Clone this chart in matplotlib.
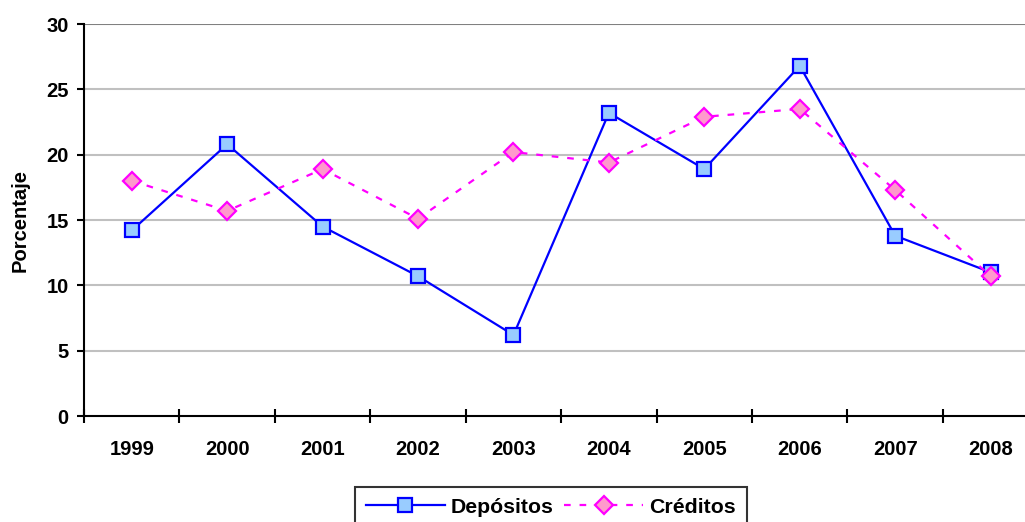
import matplotlib
matplotlib.use("Agg")
import matplotlib.pyplot as plt

years = ["1999", "2000", "2001", "2002", "2003", "2004", "2005", "2006", "2007", "2008"]
depositos = [14.2, 20.8, 14.5, 10.7, 6.2, 23.2, 18.9, 26.8, 13.8, 11.0]
creditos = [18.0, 15.7, 18.9, 15.1, 20.2, 19.4, 22.9, 23.5, 17.3, 10.7]
y_ticks = [0, 5, 10, 15, 20, 25, 30]

plt.rcParams["font.family"] = ["Liberation Sans", "DejaVu Sans"]
plt.rcParams["font.weight"] = "bold"
FS = 14.5

fig = plt.figure(figsize=(10.25, 5.22), dpi=100)
# plot area runs slightly past the right edge of the canvas
ax = fig.add_axes([0.082, 0.203, 0.931, 0.751])

x = list(range(len(years)))
ax.plot(x, depositos, color="#0000ff", lw=1.6, marker="s", ms=10.5,
        mfc="#99ccff", mec="#0000ff", mew=1.6, label="Depósitos", zorder=3)
ax.plot(x, creditos, color="#ff00ff", lw=1.6, ls=(0, (3, 4)), marker="D", ms=9,
        mfc="#ff99cc", mec="#ff00ff", mew=1.6, label="Créditos", zorder=4)

ax.set_xlim(-0.5, len(years) - 0.5)
ax.set_ylim(0, 30)
ax.set_yticks(y_ticks)
ax.set_yticklabels([str(v) for v in y_ticks], fontsize=FS, fontweight="bold")

# category labels centred, tick marks on the boundaries
ax.set_xticks([i - 0.5 for i in range(len(years) + 1)])
ax.set_xticklabels([])
ax.set_xticks(x, minor=True)
ax.set_xticklabels(years, minor=True, fontsize=FS, fontweight="bold")
ax.tick_params(axis="x", which="minor", length=0, pad=17)
ax.tick_params(axis="x", which="major", direction="inout", length=10, width=1.5)
ax.tick_params(axis="y", direction="out", length=5, width=1.5, pad=6)

for v in y_ticks[1:]:
    ax.axhline(v, color="#808080" if v == 30 else "#c0c0c0", lw=1.5, zorder=1)

for s in ["top", "right"]:
    ax.spines[s].set_visible(False)
for s in ["left", "bottom"]:
    ax.spines[s].set_linewidth(1.5)
    ax.spines[s].set_zorder(5)

ax.set_ylabel("Porcentaje", fontsize=FS, fontweight="bold", labelpad=12)

leg = fig.legend(loc="lower center", bbox_to_anchor=(0.5376, -0.01), ncol=2,
                 frameon=True, fancybox=False, edgecolor="black",
                 prop={"size": FS + 0.8, "weight": "bold"}, handlelength=3.7,
                 columnspacing=0.5, handletextpad=0.3, borderpad=0.5,
                 borderaxespad=0.0)
leg.get_frame().set_linewidth(1.5)

fig.savefig("out.png", dpi=100)
